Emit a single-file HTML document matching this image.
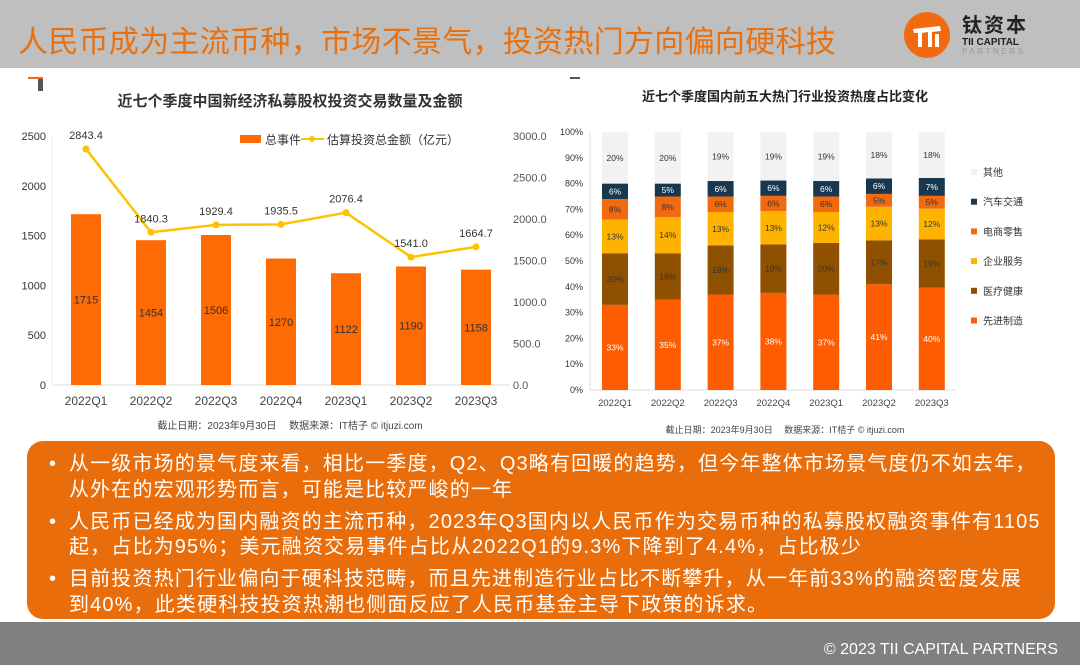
<!DOCTYPE html>
<html><head><meta charset="utf-8">
<style>
*{margin:0;padding:0;box-sizing:border-box}
body{width:1080px;height:665px;overflow:hidden;background:#fff;font-family:"Liberation Sans","Noto Sans CJK SC",sans-serif;position:relative}
#top{position:absolute;left:0;top:0;width:1080px;height:68px;background:#bfbfbf}
#title{position:absolute;left:18px;top:17px;font-size:30px;color:#e8700f;font-family:"Noto Sans CJK SC",sans-serif;letter-spacing:0.3px;white-space:nowrap}
#foot{position:absolute;left:0;top:622px;width:1080px;height:43px;background:#808080}
#foot span{position:absolute;right:22px;top:19px;color:#fff;font-size:16px}
#box{position:absolute;left:27px;top:441px;width:1028px;height:178px;background:#e96d0a;border-radius:16px;color:#fff;font-family:"Liberation Sans","Noto Sans CJK SC",sans-serif;font-size:20px;line-height:25.5px;letter-spacing:1.15px;padding:11px 0 0 22px;white-space:nowrap;overflow:hidden}
#box p{position:relative;padding-left:20px;margin-bottom:6.5px}
#box p:before{content:"•";position:absolute;left:0;top:0}
svg text{font-family:"Liberation Sans","Noto Sans CJK SC",sans-serif}
</style></head><body>
<div id="top"></div>
<div id="title">人民币成为主流币种，市场不景气，投资热门方向偏向硬科技</div>
<svg style="position:absolute;left:900px;top:8px" width="170" height="52">
<circle cx="27" cy="27" r="23" fill="#f26a0f"/>
<path d="M13 21 L40 18 L41 23 L32 24 L32 39 L28 39 L28 24 L22 25 L22 39 L18 39 L18 25 L14 25 Z" fill="#fff"/>
<rect x="35" y="26" width="4" height="13" fill="#fff"/>
<text x="62" y="24" font-size="20" fill="#222" font-weight="bold" letter-spacing="2">钛资本</text>
<text x="62" y="37" font-size="10" fill="#222" font-weight="bold">TII CAPITAL</text>
<text x="62" y="46" font-size="8" fill="#999" letter-spacing="2.6">PARTNERS</text>
</svg>

<svg id="left" style="position:absolute;left:0;top:68px" width="555" height="372"></svg>
<svg id="right" style="position:absolute;left:555px;top:68px" width="525" height="372"></svg>

<div id="box">
<p>从一级市场的景气度来看，相比一季度，Q2、Q3略有回暖的趋势，但今年整体市场景气度仍不如去年，<br>从外在的宏观形势而言，可能是比较严峻的一年</p>
<p>人民币已经成为国内融资的主流币种，2023年Q3国内以人民币作为交易币种的私募股权融资事件有1105<br>起，占比为95%；美元融资交易事件占比从2022Q1的9.3%下降到了4.4%，占比极少</p>
<p>目前投资热门行业偏向于硬科技范畴，而且先进制造行业占比不断攀升，从一年前33%的融资密度发展<br>到40%，此类硬科技投资热潮也侧面反应了人民币基金主导下政策的诉求。</p>
</div>
<div id="foot"><span>© 2023 TII CAPITAL PARTNERS</span></div>

<script>
const categories=["2022Q1","2022Q2","2022Q3","2022Q4","2023Q1","2023Q2","2023Q3"];
const eventCounts=[1715,1454,1506,1270,1122,1190,1158];
const amounts=[2843.4,1840.3,1929.4,1935.5,2076.4,1541.0,1664.7];
const leftTicks=[0,500,1000,1500,2000,2500];
const rightTicks=[0,500,1000,1500,2000,2500,3000];
const seriesNames=["先进制造","医疗健康","企业服务","电商零售","汽车交通","其他"];
const sManu=[33,35,37,38,37,41,40];
const sMed=[20,18,19,19,20,17,19];
const sEnt=[13,14,13,13,12,13,12];
const sEcom=[8,8,6,6,6,5,5];
const sAuto=[6,5,6,6,6,6,7];
const sOther=[20,20,19,19,19,18,18];
const pctTicks=[0,10,20,30,40,50,60,70,80,90,100];

const NS="http://www.w3.org/2000/svg";
function mk(p,tag,a,txt){const e=document.createElementNS(NS,tag);for(const k in a)e.setAttribute(k,a[k]);if(txt!==undefined)e.textContent=txt;p.appendChild(e);return e;}

// LEFT
const L=document.getElementById('left');
const base=317, top0=68;
const yL=v=>base-v/2500*(base-top0);
const yR=v=>base-v/3000*(base-top0);
const xL=i=>86+i*65;
let e;
e=mk(L,'rect',{x:38,y:9,width:5,height:14,fill:'#555'});

mk(L,'rect',{x:28,y:9,width:15,height:2,fill:'#f26a0f'});
e=mk(L,'text',{x:290,y:38,'font-size':15,'font-weight':'bold','text-anchor':'middle',fill:'#333'},'近七个季度中国新经济私募股权投资交易数量及金额');

mk(L,'line',{x1:53,y1:base,x2:510,y2:base,stroke:'#ddd'});
mk(L,'line',{x1:52,y1:top0,x2:52,y2:base,stroke:'#eee'});
leftTicks.forEach(t=>{e=mk(L,'text',{x:46,y:yL(t)+4,'font-size':11,'text-anchor':'end',fill:'#333'},t);
});
rightTicks.forEach(t=>{e=mk(L,'text',{x:513,y:yR(t)+4,'font-size':11,fill:'#555'},t.toFixed(1));
});
eventCounts.forEach((v,i)=>{e=mk(L,'rect',{x:xL(i)-15,y:yL(v),width:30,height:base-yL(v),fill:'#fe6a03'});

mk(L,'text',{x:xL(i),y:yL(v)+(base-yL(v))/2+4,'font-size':11,'text-anchor':'middle',fill:'#333'},v);
e=mk(L,'text',{x:xL(i),y:base+20,'font-size':12,'text-anchor':'middle',fill:'#444'},categories[i]);
});
let pts=amounts.map((v,i)=>xL(i)+','+yR(v)).join(' ');
e=mk(L,'polyline',{points:pts,fill:'none',stroke:'#fdc300','stroke-width':2.5});

amounts.forEach((v,i)=>{e=mk(L,'circle',{cx:xL(i),cy:yR(v),r:3.5,fill:'#fdc300'});

mk(L,'text',{x:xL(i),y:yR(v)-10,'font-size':11,'text-anchor':'middle',fill:'#333'},v.toFixed(1));});
e=mk(L,'g',{});
mk(e,'rect',{x:240,y:67,width:21,height:8,fill:'#fe6a03'});
mk(e,'text',{x:265,y:76,'font-size':12,fill:'#333'},'总事件');
mk(e,'line',{x1:301,y1:71,x2:324,y2:71,stroke:'#fdc300','stroke-width':2});
mk(e,'circle',{cx:312,cy:71,r:3,fill:'#fdc300'});
mk(e,'text',{x:327,y:76,'font-size':12,fill:'#333'},'估算投资总金额（亿元）');
e=mk(L,'text',{x:290,y:361,'font-size':10,'text-anchor':'middle',fill:'#444'},'截止日期：2023年9月30日　 数据来源：IT桔子 © itjuzi.com');


// RIGHT
const R=document.getElementById('right');
const rb=322, rt=64;
const yP=v=>rb-v/100*(rb-rt);
const xR=i=>60+i*52.8;
const colors=['#fe5c00','#8f5100','#fdb300','#f26a0f','#17384f','#f2f2f2'];
const series=[sManu,sMed,sEnt,sEcom,sAuto,sOther];
const labelCol=['#fff','#333','#333','#333','#fff','#333'];
mk(R,'rect',{x:15,y:9,width:10,height:2,fill:'#555'});
e=mk(R,'text',{x:230,y:33,'font-size':13,'font-weight':'bold','text-anchor':'middle',fill:'#222'},'近七个季度国内前五大热门行业投资热度占比变化');

pctTicks.forEach(t=>{e=mk(R,'text',{x:28,y:yP(t)+3,'font-size':9,'text-anchor':'end',fill:'#333'},t+'%');
});
mk(R,'line',{x1:35,y1:rt,x2:35,y2:rb,stroke:'#ddd'});
mk(R,'line',{x1:35,y1:rb,x2:400,y2:rb,stroke:'#ddd'});
categories.forEach((c,i)=>{
 let tot=0;series.forEach(s=>tot+=s[i]);
 let acc=0;
 series.forEach((s,k)=>{
  const v=s[i]/tot*100;
  const y1=yP(acc+v),y0=yP(acc);
  e=mk(R,'rect',{x:xR(i)-13,y:y1,width:26,height:y0-y1,fill:colors[k]});
  
  mk(R,'text',{x:xR(i),y:(y0+y1)/2+3,'font-size':8.5,'text-anchor':'middle',fill:labelCol[k]},s[i]+'%');
  acc+=v;});
 e=mk(R,'text',{x:xR(i),y:rb+16,'font-size':9.5,'text-anchor':'middle',fill:'#444'},c);
 
});
for(let k=5;k>=0;k--){const y=106+(5-k)*29.7;
 e=mk(R,'g',{});
 mk(e,'rect',{x:416,y:y-5,width:6,height:6,fill:colors[k]});
 mk(e,'text',{x:428,y:y+2,'font-size':10,fill:'#333'},seriesNames[k]);}
e=mk(R,'text',{x:230,y:365,'font-size':9,'text-anchor':'middle',fill:'#444'},'截止日期：2023年9月30日　 数据来源：IT桔子 © itjuzi.com');

</script>
</body></html>
